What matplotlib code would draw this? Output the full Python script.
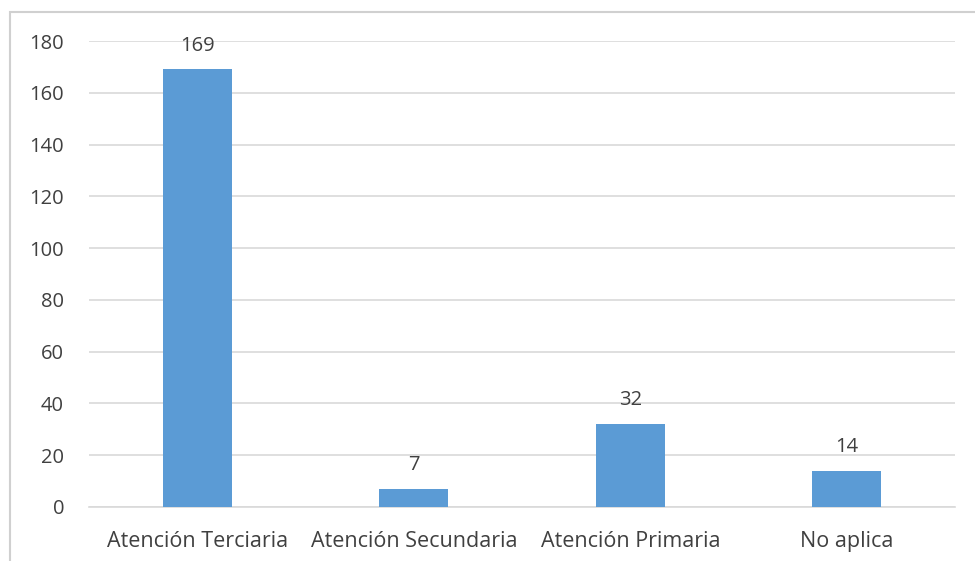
import matplotlib.pyplot as plt
from matplotlib.patches import Rectangle

categories = ["Atención Terciaria", "Atención Secundaria", "Atención Primaria", "No aplica"]
values = [169, 7, 32, 14]
y_ticks = [0, 20, 40, 60, 80, 100, 120, 140, 160, 180]

text_color = "#404040"
bar_color = "#5B9BD5"
grid_color = "#D9D9D9"

plt.rcParams["font.family"] = ["Open Sans", "DejaVu Sans"]

fig = plt.figure(figsize=(9.75, 5.61), dpi=100)
ax = fig.add_axes([0.0913, 0.0963, 0.8882, 0.8306])

# outer chart frame (partly cut off, like the screenshot)
fig.patches.append(Rectangle((10 / 975, -0.05), 1.1, 1 - 12 / 561 + 0.05,
                             transform=fig.transFigure, fill=False,
                             edgecolor="#D0D0D0", linewidth=1.5))

x = range(len(categories))
bars = ax.bar(x, values, width=0.32, color=bar_color, zorder=3)
for b, v in zip(bars, values):
    ax.annotate(str(v), (b.get_x() + b.get_width() / 2, v), xytext=(0, 10),
                textcoords="offset points", ha="center", va="bottom",
                fontsize=14.5, color=text_color)

ax.set_xlim(-0.5, len(categories) - 0.5)
ax.set_ylim(0, 180)
ax.set_yticks(y_ticks)
ax.set_xticks(list(x))
ax.set_xticklabels(categories)
ax.tick_params(axis="both", length=0, labelsize=14.5, colors=text_color)
ax.tick_params(axis="x", labelsize=15.5, pad=17)
ax.tick_params(axis="y", pad=18)
ax.grid(axis="y", color=grid_color, linewidth=1.2, zorder=0)
for s in ["top", "right", "left"]:
    ax.spines[s].set_visible(False)
ax.spines["bottom"].set_color(grid_color)
ax.spines["bottom"].set_linewidth(1.2)

plt.savefig("out.png", dpi=100)
plt.close()
